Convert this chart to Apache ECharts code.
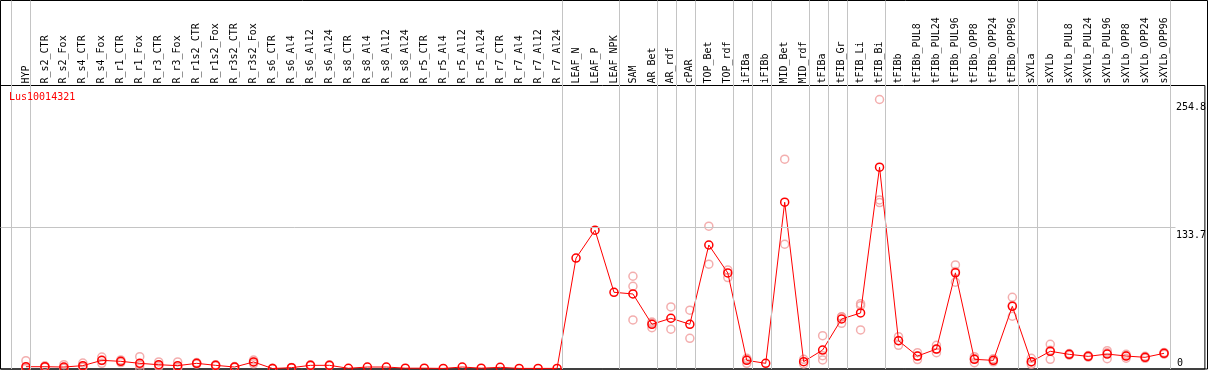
<!DOCTYPE html>
<html><head><meta charset="utf-8">
<script src="https://cdn.jsdelivr.net/npm/echarts@6/dist/echarts.min.js"></script>
<style>html,body{margin:0;padding:0;background:#fff}#c{width:1209px;height:370px}</style>
</head><body><div id="c"></div>
<script>
const chartTitle = 'Lus10014321';
const categories = ['HYP','R_s2_CTR','R_s2_Fox','R_s4_CTR','R_s4_Fox','R_r1_CTR','R_r1_Fox','R_r3_CTR','R_r3_Fox','R_r1s2_CTR','R_r1s2_Fox','R_r3s2_CTR','R_r3s2_Fox','R_s6_CTR','R_s6_Al4','R_s6_Al12','R_s6_Al24','R_s8_CTR','R_s8_Al4','R_s8_Al12','R_s8_Al24','R_r5_CTR','R_r5_Al4','R_r5_Al12','R_r5_Al24','R_r7_CTR','R_r7_Al4','R_r7_Al12','R_r7_Al24','LEAF_N','LEAF_P','LEAF_NPK','SAM','AR_Bet','AR_rdf','cPAR','TOP_Bet','TOP_rdf','iFIBa','iFIBb','MID_Bet','MID_rdf','tFIBa','tFIB_Gr','tFIB_Li','tFIB_Bi','tFIBb','tFIBb_PUL8','tFIBb_PUL24','tFIBb_PUL96','tFIBb_OPP8','tFIBb_OPP24','tFIBb_OPP96','sXYLa','sXYLb','sXYLb_PUL8','sXYLb_PUL24','sXYLb_PUL96','sXYLb_OPP8','sXYLb_OPP24','sXYLb_OPP96'];
const meanValues = [1.7,1.7,1.4,2.7,7.7,6.8,4.9,3.6,2.7,4.9,3.0,1.4,6.2,0.0,0.8,3.0,3.0,0.2,1.4,1.4,0.3,0.3,0.1,1.4,0.3,1.1,0.1,0.1,0.1,104.6,131.0,72.2,70.6,41.9,47.6,41.9,117.0,90.5,7.7,4.9,157.5,6.5,17.5,46.9,52.6,190.7,26.3,11.8,18.4,90.6,8.7,7.7,58.9,6.5,16.3,13.4,11.5,13.7,11.8,10.6,14.4];
const rep1 = [7.4,2.5,3.6,5.2,10.9,8.1,11.2,6.2,6.2,5.6,3.6,1.8,8.0,0.3,1.0,3.5,3.4,null,null,null,null,null,null,null,null,null,null,null,null,null,null,null,87.4,43.0,58.3,55.2,134.8,93.4,9.6,null,198.3,8.7,31.1,49.1,61.4,254.8,30.1,15.0,22.0,98.1,11.2,9.3,67.5,9.6,22.9,14.2,12.3,16.9,13.5,11.6,15.2];
const rep2 = [0.5,1.2,0.5,1.7,7.5,6.8,3.3,3.0,1.2,4.9,3.0,1.4,6.2,0.0,0.8,3.0,3.0,null,null,null,null,null,null,null,null,null,null,null,null,null,null,null,77.9,38.7,37.2,28.6,98.8,86.1,8.6,null,117.7,4.3,12.1,42.8,59.5,159.7,26.5,11.8,18.3,92.0,9.4,7.5,59.7,6.0,17.3,13.4,11.5,14.9,12.2,10.6,14.4];
const rep3 = [0.0,1.4,0.2,1.2,4.9,5.6,0.2,1.6,0.7,4.2,2.4,1.0,4.4,0.0,0.6,2.5,2.6,null,null,null,null,null,null,null,null,null,null,null,null,null,null,null,46.0,44.0,null,null,null,null,4.9,null,null,null,8.1,48.8,36.5,157.2,22.0,8.5,15.0,81.8,5.5,6.3,49.5,4.0,8.7,12.6,10.7,9.3,9.7,9.6,13.6];
const groupSizes = [1,28,3,2,1,1,2,1,1,2,1,1,2,7,1,7];
const yTickLabels = [0, 133.7, 254.8];
const refLineValue = 133.7;

const FONT = 'DejaVu Sans Mono';
const X_MIN = -1.341, X_MAX = 62.152;
const Y_MIN = -0.47, Y_MAX = 268.07;

// group separators sit just right of the last member of each group
const SEP_OFFSET = 0.21;
const seps = [];
let cum = -1;
seps.push(cum + SEP_OFFSET);
groupSizes.forEach(s => { cum += s; seps.push(cum + SEP_OFFSET); });

const meanData = meanValues.map((v, i) => [i, v]);
const repData = [];
[rep1, rep2, rep3].forEach(arr => arr.forEach((v, i) => { if (v !== null) repData.push([i, v]); }));

const chart = echarts.init(document.getElementById('c'), null, {renderer: 'canvas'});
chart.setOption({
  animation: false,
  backgroundColor: '#fff',
  title: {
    text: chartTitle, left: 9, top: 92, padding: 0,
    textStyle: {color: '#ff0000', fontSize: 10, fontFamily: FONT, fontWeight: 'normal'}
  },
  grid: [
    {left: 0.5, top: 0.5, width: 1207, height: 368.5, show: true, borderColor: '#000', borderWidth: 1, backgroundColor: 'transparent', containLabel: false},
    {left: 0.5, top: 85.5, width: 1207, height: 283.5, show: true, borderColor: '#000', borderWidth: 1, backgroundColor: 'transparent', containLabel: false}
  ],
  xAxis: [
    {gridIndex: 0, type: 'value', min: X_MIN, max: X_MAX, show: false},
    {gridIndex: 1, type: 'value', min: X_MIN, max: X_MAX, position: 'top',
     axisLine: {show: false}, axisTick: {show: false}, splitLine: {show: false},
     axisLabel: {customValues: categories.map((_, i) => i), formatter: v => categories[Math.round(v)],
       rotate: 90, margin: 2, fontFamily: FONT, fontSize: 10, color: '#000', hideOverlap: false}}
  ],
  yAxis: [
    {gridIndex: 0, type: 'value', min: 0, max: 1, show: false},
    {gridIndex: 1, type: 'value', min: Y_MIN, max: Y_MAX, position: 'right',
     axisLine: {show: false}, axisTick: {show: false}, splitLine: {show: false},
     axisLabel: {inside: true, customValues: yTickLabels.filter(v => v !== 0), formatter: v => String(v),
       align: 'left', verticalAlign: 'top', padding: [3, 0, 0, 0], margin: 29, fontFamily: FONT, fontSize: 10, color: '#000'}},
    {gridIndex: 1, type: 'value', min: Y_MIN, max: Y_MAX, position: 'right',
     axisLine: {show: false}, axisTick: {show: false}, splitLine: {show: false},
     axisLabel: {inside: true, customValues: yTickLabels.filter(v => v === 0), formatter: v => String(v),
       align: 'left', verticalAlign: 'bottom', margin: 28, fontFamily: FONT, fontSize: 10, color: '#000'}}
  ],
  series: [
    {type: 'line', xAxisIndex: 0, yAxisIndex: 0, data: [], silent: true, z: 1,
     markLine: {symbol: 'none', silent: true, animation: false, label: {show: false},
       lineStyle: {color: '#c4c4c4', type: 'solid', width: 1},
       emphasis: {disabled: true},
       data: seps.map(x => ({xAxis: x}))}},
    {type: 'scatter', xAxisIndex: 1, yAxisIndex: 1, data: repData, symbol: 'circle', symbolSize: 8, z: 2,
     itemStyle: {color: 'rgba(255,255,255,0)', borderColor: '#f09a9a', borderWidth: 1.5}},
    {type: 'line', xAxisIndex: 1, yAxisIndex: 1, data: meanData, symbol: 'circle', symbolSize: 8, z: 3,
     clip: false,
     itemStyle: {color: 'rgba(255,255,255,0)', borderColor: '#ff0000', borderWidth: 1.5},
     lineStyle: {color: '#ff0000', width: 1},
     markLine: {symbol: 'none', silent: true, label: {show: false},
       lineStyle: {color: '#c4c4c4', type: 'solid', width: 1},
       data: [[{coord: [X_MIN, refLineValue]}, {coord: [60.6, refLineValue]}]]}}
  ]
});
</script>
</body></html>
